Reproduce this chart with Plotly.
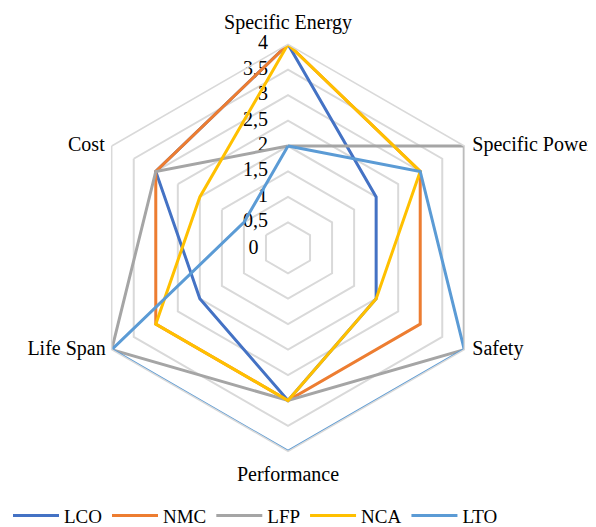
import plotly.graph_objects as go

categories = ["Specific Energy", "Specific Power", "Safety", "Performance", "Life Span", "Cost"]
LCO = [4, 2, 2, 3, 2, 3]
NMC = [4, 3, 3, 3, 3, 3]
LFP = [2, 4, 4, 3, 4, 3]
NCA = [4, 3, 2, 3, 3, 2]
LTO = [2, 3, 4, 4, 4, 1]
tick_vals = [0, 0.5, 1, 1.5, 2, 2.5, 3, 3.5, 4]
tick_text = ["0", "0,5", "1", "1,5", "2", "2,5", "3", "3,5", "4"]
R_MAX = 4

series = [("LCO", LCO, "#4472C4"), ("NMC", NMC, "#ED7D31"), ("LFP", LFP, "#A5A5A5"),
          ("NCA", NCA, "#FFC000"), ("LTO", LTO, "#5B9BD5")]

FONT = "Liberation Serif, Times New Roman, serif"
fig = go.Figure()

# radial tick labels above zero (right-aligned, left of the vertical axis, beneath the lines)
fig.add_trace(go.Scatterpolar(
    r=tick_vals[1:], theta=[categories[0]] * (len(tick_vals) - 1), text=tick_text[1:],
    mode="markers+text", textposition="middle left",
    marker=dict(size=30.4, opacity=0), textfont=dict(family=FONT, size=20, color="black"),
    hoverinfo="skip", showlegend=False, cliponaxis=False))

for name, vals, col in series:
    fig.add_trace(go.Scatterpolar(
        r=vals + vals[:1], theta=categories + categories[:1], name=name,
        mode="lines", line=dict(color=col, width=3), cliponaxis=False))

# category labels around the outer ring
label_pos = ["top center", "middle right", "middle right", "bottom center", "middle left", "middle left"]
label_pad = [15, 11.2, 11.2, 21.8, 8, 9.6]
fig.add_trace(go.Scatterpolar(
    r=[R_MAX] * len(categories), theta=categories, text=categories,
    mode="markers+text", textposition=label_pos,
    marker=dict(size=label_pad, opacity=0), textfont=dict(family=FONT, size=20, color="black"),
    hoverinfo="skip", showlegend=False, cliponaxis=False))

W, H = 596, 527
cx, cy, R = 280, 243.5, 206.7
fig.update_layout(
    width=W, height=H, margin=dict(l=0, r=0, t=0, b=0),
    paper_bgcolor="white", plot_bgcolor="white",
    font=dict(family=FONT, size=20, color="black"),
    polar=dict(
        domain=dict(x=[(cx - R) / W, (cx + R) / W], y=[(H - cy - R) / H, (H - cy + R) / H]),
        bgcolor="white",
        gridshape="linear",
        angularaxis=dict(rotation=90, direction="clockwise", showgrid=False,
                         showline=True, linecolor="#D9D9D9", linewidth=1.5, ticks="",
                         showticklabels=False),
        radialaxis=dict(range=[0, R_MAX], tickvals=tick_vals,
                        ticktext=[tick_text[0]] + [""] * (len(tick_vals) - 1), angle=90,
                        tickangle=90, side="counterclockwise",
                        showline=False, ticks="outside", ticklen=22, tickcolor="rgba(0,0,0,0)",
                        gridcolor="#D9D9D9", gridwidth=1.5, layer="below traces",
                        tickfont=dict(family=FONT, size=20, color="black")),
    ),
    legend=dict(orientation="h", x=0, xanchor="left", y=0.022, yanchor="middle",
                itemwidth=46, font=dict(family=FONT, size=19, color="black")),
)
fig.write_html("out.html")
